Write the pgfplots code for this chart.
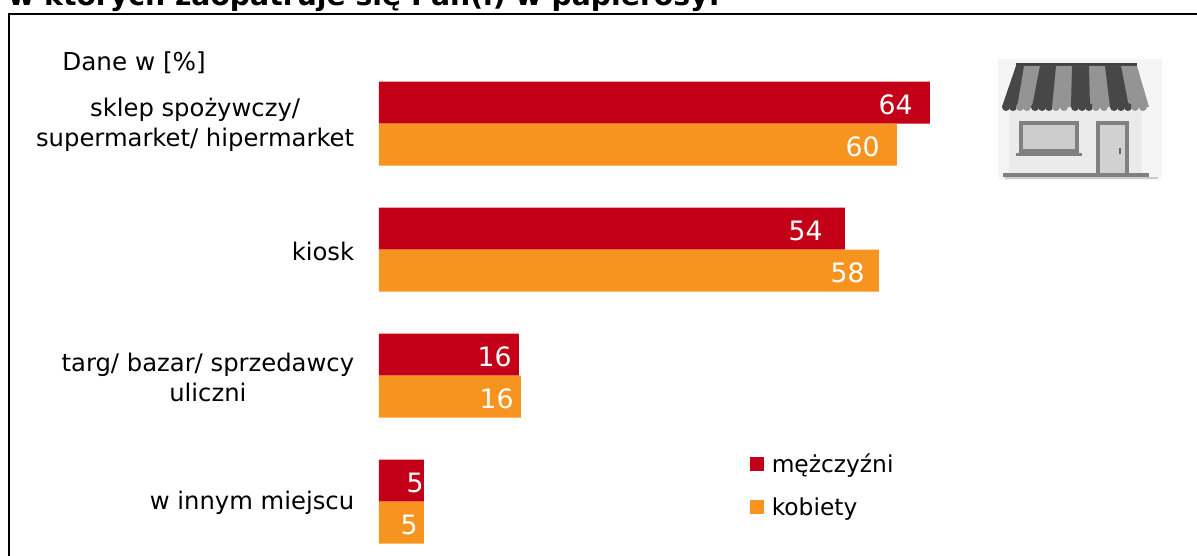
\documentclass[border=0pt]{standalone}
\usepackage{fontspec}
\setmainfont{DejaVu Sans}
\usepackage{pgfplots}
\usepackage{pgfplotstable}
\pgfplotsset{compat=1.18}
\definecolor{cred}{HTML}{C40018}
\definecolor{corange}{HTML}{F7941F}
\pgfplotstableread{
c v lab
0 63.99 64/17
1 54.12 54/22
2 16.26 16/7
3 5.23 5/0
}\men
\pgfplotstableread{
c v lab
0 60.16 60/17
1 58.07 58/14
2 16.49 16/7
3 5.23 5/6
}\women
\def\barlab#1/#2\relax{#1\kern #2\dimexpr 0.75pt\relax}
\begin{document}
\begin{tikzpicture}[x=0.75pt,y=-0.75pt]
\path[use as bounding box] (0,0) rectangle (1197,556);
\clip (0,0) rectangle (1197,556);
% title, cut by the page top
\node[anchor=base west,inner sep=0pt,font=\bfseries\fontsize{21.2}{24}\selectfont] at (8,6) {w których zaopatruje się Pan(i) w papierosy:};
% frame
\draw[line width=1.5pt,black] (9,600) -- (9,14) -- (1250,14);
% shop picture
\fill[black!4] (998,59) rectangle (1162,180);
\fill[black!8] (1009,107) rectangle (1142,173);
\fill[black!75] (1016,63) rectangle (1137,66.5);
\fill[black!42] (1016,66) -- (1137,66) -- (1149,107) -- (1002,107) -- cycle;
\fill[black!72] (1016,66) -- (1024,66) -- (1017,107) -- (1002,107) -- cycle;
\fill[black!72] (1040,66) -- (1056,66) -- (1052,107) -- (1032,107) -- cycle;
\fill[black!72] (1072,66) -- (1089,66) -- (1090,107) -- (1071,107) -- cycle;
\fill[black!72] (1105,66) -- (1121,66) -- (1129,107) -- (1110,107) -- cycle;
\foreach \px/\g in {1006/72,1013/72,1020/42,1027/42,1035/72,1042/72,1049/72,1056/42,1064/42,1075/72,1082/72,1089/72,1096/42,1104/42,1114/72,1121/72,1128/72,1135/42,1143/42}
  \fill[black!\g] (\px,107) circle[radius=4];
\fill[black!50] (1019,121) rectangle (1079,153);
\fill[black!20] (1023,125) rectangle (1075,149);
\fill[black!50] (1016,153) rectangle (1082,156);
\fill[black!50] (1096,121) rectangle (1129,173);
\fill[black!18] (1100,125) rectangle (1125,173);
\fill[black!60] (1119,148) rectangle (1121,154);
\fill[black!50] (1003,173) rectangle (1149,177);
\fill[black!20] (1005,177) rectangle (1158,179);
% note
\node[anchor=base west,inner sep=0pt,font=\fontsize{18.5}{20}\selectfont] at (62,71) {Dane w [\%]};
\begin{axis}[
  at={(440,441)},anchor=south west,
  scale only axis,width=540.75pt,height=394.5pt,
  xmin=0,xmax=83.74,ymin=-0.746,ymax=3.4286,y dir=reverse,
  axis line style={draw=none},
  xtick=\empty,
  ytick={0,1,2,3},
  yticklabels={{sklep spożywczy/\\supermarket/ hipermarket},{kiosk},{targ/ bazar/ sprzedawcy\\uliczni},{w innym miejscu}},
  major tick length=0pt,
  yticklabel style={align=center,font=\fontsize{18.2}{22.5}\selectfont,xshift=-15pt,yshift=-1.2pt},
  clip=false,
  xbar,
  bar width=31.5pt,
  point meta=explicit symbolic,
  nodes near coords={\expandafter\barlab\pgfplotspointmeta\relax},
  every node near coord/.append style={anchor=east,inner sep=0pt,text=white,font=\fontsize{20}{22}\selectfont,yshift=-1.6pt},
  legend cell align=left,
  legend style={draw=none,fill=none,at={(0.515,0.2)},anchor=north west,font=\fontsize{17.5}{20}\selectfont,row sep=13.5pt,inner sep=0pt},
  legend image code/.code={\fill[#1] (0pt,-5.25pt) rectangle (10.5pt,5.25pt);\path (14pt,0pt) -- (13pt,0pt);},
]
\addplot[fill=cred,draw=none,bar shift=15.75pt] table[x=v,y=c,meta=lab] {\men};
\addplot[fill=corange,draw=none,bar shift=-15.75pt] table[x=v,y=c,meta=lab] {\women};
\legend{mężczyźni,kobiety}
\end{axis}
\end{tikzpicture}
\end{document}
